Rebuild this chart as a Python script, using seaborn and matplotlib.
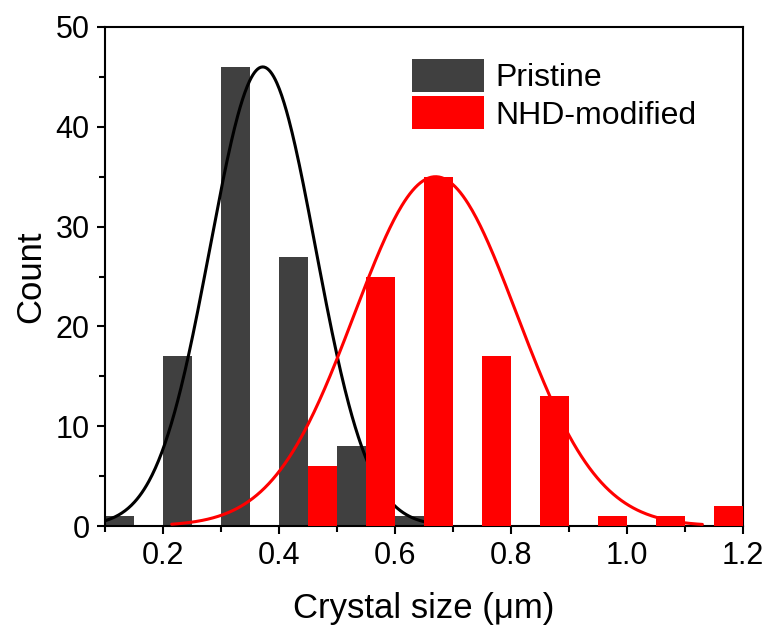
import numpy as np
import pandas as pd
import matplotlib
matplotlib.use("Agg")
import matplotlib.pyplot as plt
import seaborn as sns
from matplotlib.ticker import MultipleLocator, FormatStrFormatter
from matplotlib.patches import Patch

# ---- data ----
bin_starts = [0.1, 0.2, 0.3, 0.4, 0.5, 0.6, 0.7, 0.8, 0.9, 1.0, 1.1]
pristine_counts = [1, 17, 46, 27, 8, 1, 0, 0, 0, 0, 0]
nhd_counts = [0, 0, 0, 6, 25, 35, 17, 13, 1, 1, 2]

# Gaussian fit parameters (amplitude, centre, sigma, x-range)
pristine_fit = dict(A=46.0, mu=0.372, sigma=0.091, lo=0.10, hi=0.65)
nhd_fit = dict(A=35.0, mu=0.670, sigma=0.140, lo=0.215, hi=1.13)

labels = ["Pristine", "NHD-modified"]
colors = ["#404040", "#ff0000"]

sns.set_theme(style="ticks")
plt.rcParams["font.family"] = ["Liberation Sans", "DejaVu Sans"]
plt.rcParams["text.color"] = "black"
plt.rcParams["axes.labelcolor"] = "black"

fig = plt.figure(figsize=(7.71, 6.3), dpi=100)
ax = fig.add_axes([105 / 771, 1 - 526 / 630, (743 - 105) / 771, (526 - 27) / 630])

bw = 0.05
starts = np.array(bin_starts)


def fit_curve(p):
    x = np.linspace(p["lo"], p["hi"], 400)
    y = p["A"] * np.exp(-((x - p["mu"]) ** 2) / (2 * p["sigma"] ** 2))
    return pd.DataFrame({"x": x, "y": y})


# pristine bars (left half of each bin)
ax.bar(starts, pristine_counts, width=bw, align="edge", color=colors[0],
       linewidth=0, zorder=1)
# pristine fit
sns.lineplot(data=fit_curve(pristine_fit), x="x", y="y", ax=ax, color="black",
             linewidth=2.2, zorder=2, sort=False)
# NHD bars (right half of each bin)
ax.bar(starts + bw, nhd_counts, width=bw, align="edge", color=colors[1],
       linewidth=0, zorder=3)
# NHD fit
sns.lineplot(data=fit_curve(nhd_fit), x="x", y="y", ax=ax, color="#ff0000",
             linewidth=2.2, zorder=4, sort=False)

ax.set_xlim(0.1, 1.2)
ax.set_ylim(0, 50)
ax.xaxis.set_major_locator(MultipleLocator(0.2))
ax.xaxis.set_minor_locator(MultipleLocator(0.1))
ax.yaxis.set_major_locator(MultipleLocator(10))
ax.yaxis.set_minor_locator(MultipleLocator(5))
ax.xaxis.set_major_formatter(FormatStrFormatter("%.1f"))

ax.tick_params(which="major", direction="out", length=6, width=1.5,
               labelsize=22, colors="black", pad=5)
ax.tick_params(which="minor", direction="out", length=4, width=1.5,
               colors="black")
ax.tick_params(top=False, right=False)
for s in ax.spines.values():
    s.set_linewidth(1.5)
    s.set_color("black")
    s.set_visible(True)

ax.set_xlabel("Crystal size (μm)", fontsize=25, labelpad=15, color="black")
ax.set_ylabel("Count", fontsize=25, labelpad=6, color="black")

handles = [Patch(facecolor=colors[0], edgecolor="none"),
           Patch(facecolor=colors[1], edgecolor="none")]
ax.legend(handles, labels, loc="upper left",
          bbox_to_anchor=((412 - 105) / 638, (526 - 59) / 499),
          frameon=False, fontsize=23, handlelength=2.25, handleheight=1.2,
          handletextpad=0.35, labelspacing=0.1, borderaxespad=0, borderpad=0)

fig.savefig("out.png", dpi=100)
